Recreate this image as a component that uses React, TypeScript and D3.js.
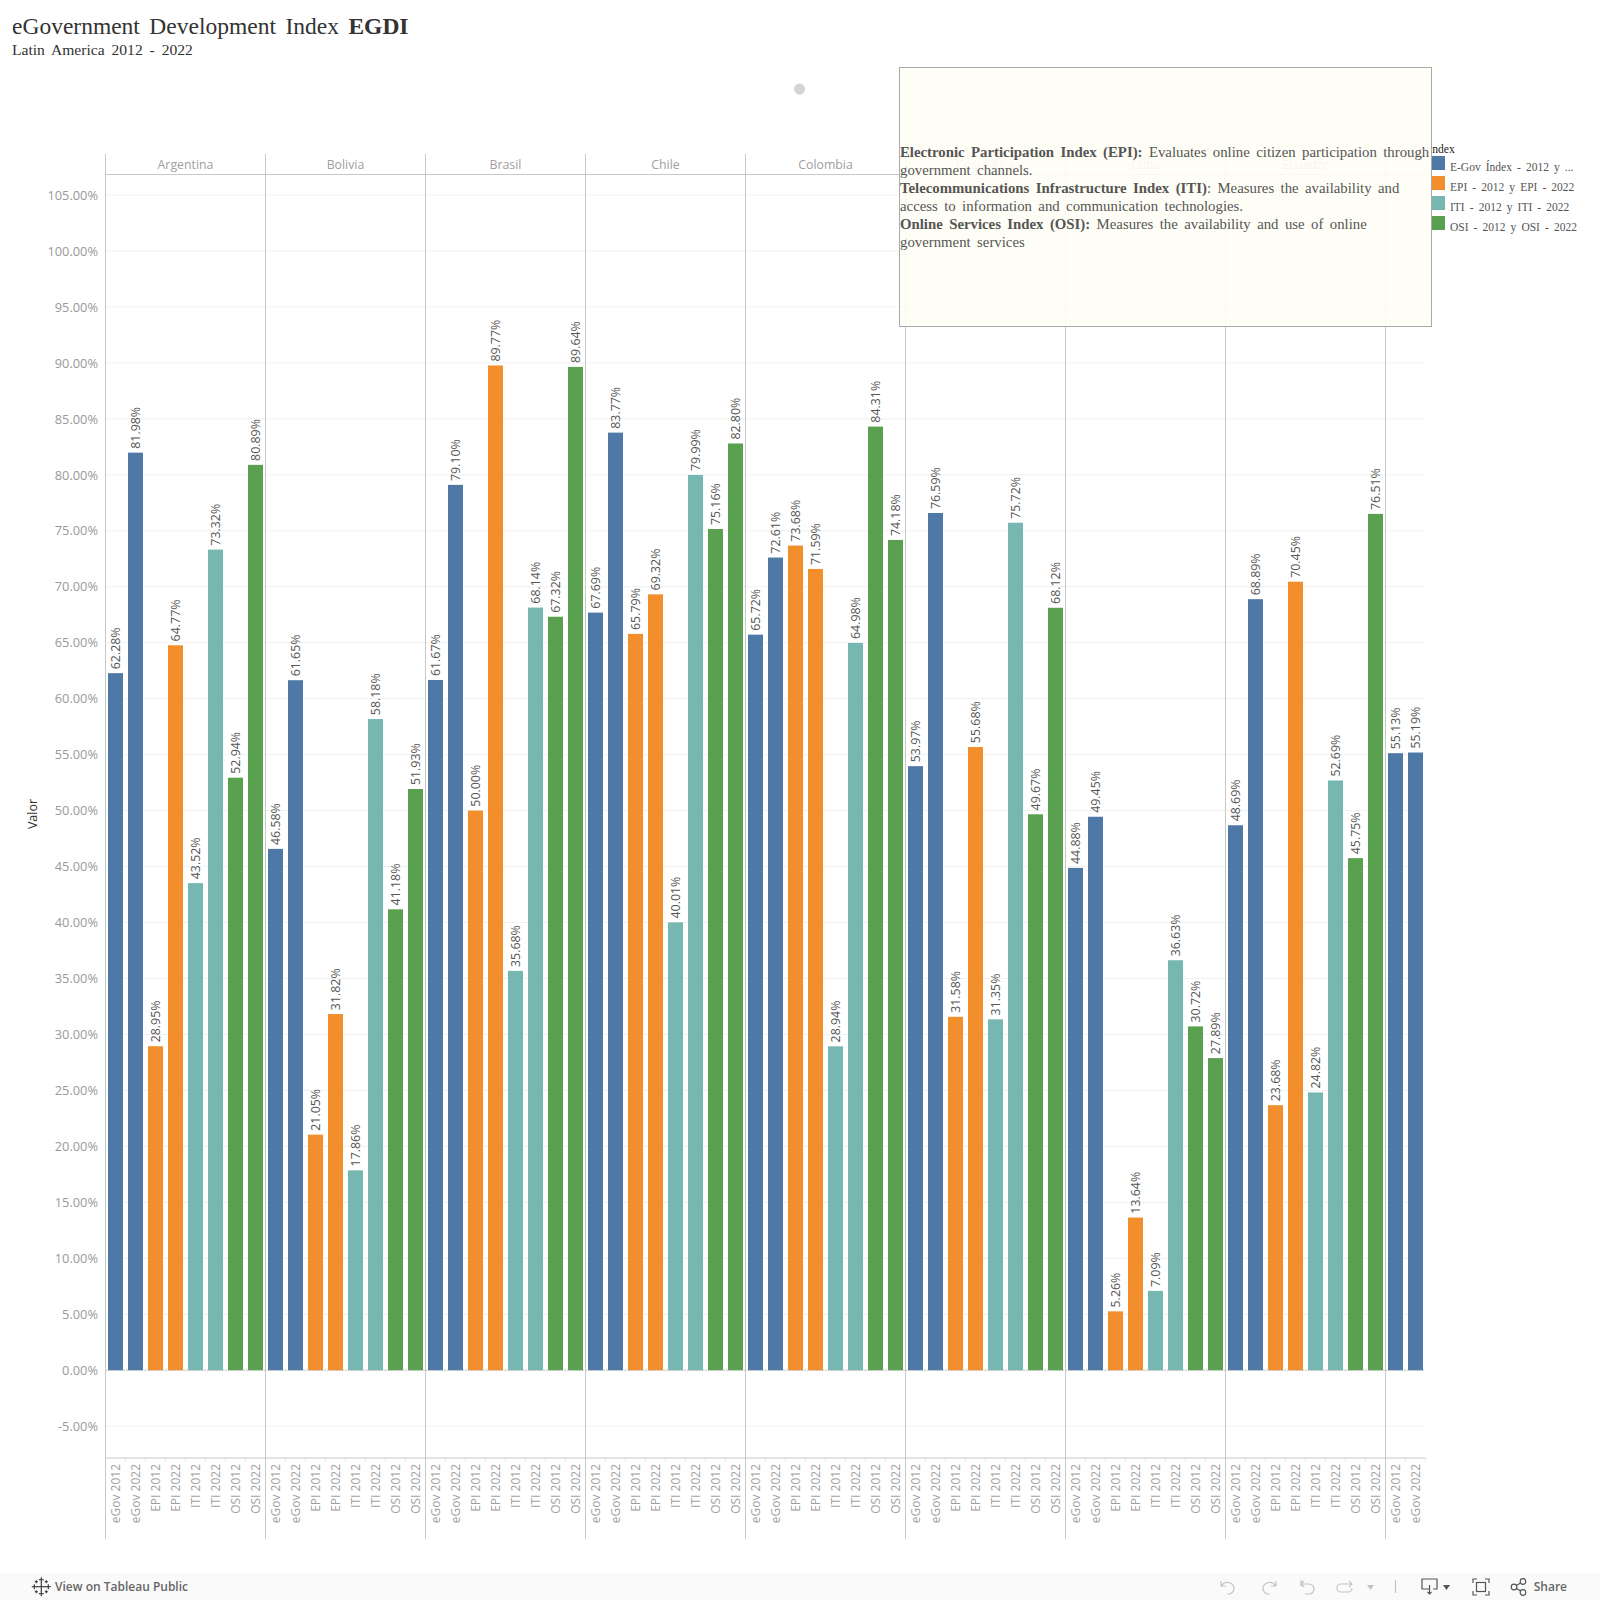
import React from 'react';
import * as d3 from 'd3';

// last panel has its header cut off in the dashboard, so no name is shown for it
const countries = ['Argentina', 'Bolivia', 'Brasil', 'Chile', 'Colombia', 'Costa Rica', 'Cuba', 'Ecuador', ''];
const measures = ['eGov 2012', 'eGov 2022', 'EPI 2012', 'EPI 2022', 'ITI 2012', 'ITI 2022', 'OSI 2012', 'OSI 2022'];

const argentina = [62.28, 81.98, 28.95, 64.77, 43.52, 73.32, 52.94, 80.89];
const bolivia = [46.58, 61.65, 21.05, 31.82, 17.86, 58.18, 41.18, 51.93];
const brasil = [61.67, 79.1, 50.0, 89.77, 35.68, 68.14, 67.32, 89.64];
const chile = [67.69, 83.77, 65.79, 69.32, 40.01, 79.99, 75.16, 82.8];
const colombia = [65.72, 72.61, 73.68, 71.59, 28.94, 64.98, 84.31, 74.18];
const costaRica = [53.97, 76.59, 31.58, 55.68, 31.35, 75.72, 49.67, 68.12];
const cuba = [44.88, 49.45, 5.26, 13.64, 7.09, 36.63, 30.72, 27.89];
const ecuador = [48.69, 68.89, 23.68, 70.45, 24.82, 52.69, 45.75, 76.51];
const lastPanel = [55.13, 55.19];
const seriesValues = [argentina, bolivia, brasil, chile, colombia, costaRica, cuba, ecuador, lastPanel];

const yTicks = d3.range(-5, 106, 5);
const legendLabels = ['E-Gov Índex - 2012 y ...', 'EPI - 2012 y EPI - 2022', 'ITI - 2012 y ITI - 2022', 'OSI - 2012 y OSI - 2022'];
const colors = ['#4e79a7', '#f28e2b', '#76b7b2', '#59a14f'];

const sans = '"Open Sans", sans-serif';
const serif = '"Liberation Serif", serif';
const grey = '#c8c8c8';

const left = 105.5, slot = 20, panelW = 160;
const top = 154, headerY = 174.5, axisY = 1458, bottom = 1539;

const y = d3.scaleLinear().domain([-5, 105]).range([1426.2, 195]);
const panelX = d3.scaleBand<string>().domain(countries).range([left, left + panelW * countries.length]);
const barX = d3.scaleBand<string>().domain(measures).range([0, panelW]).paddingInner(0.25).paddingOuter(0.125);
const right = left + panelW * 8 + slot * lastPanel.length;

const pct = (v: number) => d3.format('.2f')(v).replace('−', '-') + '%';

// tableau logo, made of little crosses: dx, dy, arm length
const logoCrosses = [[0, 0, 5], [0, -7, 2.5], [0, 7, 2.5], [-7, 0, 2.5], [7, 0, 2.5], [-5, -5, 1.5], [5, -5, 1.5], [-5, 5, 1.5], [5, 5, 1.5]];

const Toolbar = () => (
  <g>
    <rect x={0} y={1573} width={1600} height={27} fill="#fafafa" />
    <g transform="translate(41.3,1586.7)" stroke="#333" strokeWidth={1.1}>
      {logoCrosses.map(([dx, dy, r], i) => (
        <g key={i}>
          <line x1={dx - r} x2={dx + r} y1={dy} y2={dy} />
          <line x1={dx} x2={dx} y1={dy - r} y2={dy + r} />
        </g>
      ))}
    </g>
    <text x={55} y={1591} fontFamily={sans} fontSize={12} fontWeight={600} fill="#666">View on Tableau Public</text>

    <g fill="none" stroke="#c4c4c4" strokeWidth={1.2}>
      <path d="M1221,1581 v5 h5 M1221,1586 l3,-3 a7,6 0 1 1 6,11 h-3" />
      <path d="M1276,1581 v5 h-5 M1276,1586 l-3,-3 a7,6 0 1 0 -6,11 h3" />
      <path d="M1301,1580 v6 M1304,1581 l-3,3 l3,3 M1301,1584 h8 a5,5 0 0 1 0,10 h-4" />
      <path d="M1349,1581 l3,3 l-3,3 M1352,1584 h-11 a4,4 0 0 0 0,8 h7 a4,4 0 0 0 4,-4" />
      <line x1={1395.5} x2={1395.5} y1={1580} y2={1593} />
    </g>
    <path d="M1367,1585 h7 l-3.5,5 z" fill="#c4c4c4" />
    <g fill="none" stroke="#555" strokeWidth={1.2}>
      <path d="M1429,1589 h-7 v-10 h15 v10 h-4 M1429.5,1585 v9 M1427.5,1592 l2,2 l2,-2" />
      <path d="M1473,1583 v-4 h4 M1485,1579 h4 v4 M1489,1591 v4 h-4 M1477,1595 h-4 v-4" />
      <rect x={1476.5} y={1582.5} width={9} height={9} />
      <circle cx={1514} cy={1587} r={2.8} />
      <circle cx={1523} cy={1581.5} r={2.8} />
      <circle cx={1523} cy={1592.5} r={2.8} />
      <path d="M1516.5,1585.5 l4,-2.5 M1516.5,1588.5 l4,2.5" />
    </g>
    <path d="M1443,1585 h7 l-3.5,5 z" fill="#555" />
    <text x={1567} y={1591} textAnchor="end" fontFamily={sans} fontSize={12} fontWeight={600} fill="#666">Share</text>
  </g>
);

export default function App() {
  return (
    <svg width={1600} height={1600} style={{ position: 'absolute', left: 0, top: 0, background: '#fff' }}>
      <defs>
        <clipPath id="legend-clip"><rect x={1432} y={130} width={168} height={120} /></clipPath>
      </defs>

      <text x={12} y={34} fontFamily={serif} fontSize={23.5} fill="#333" style={{ wordSpacing: 3.6 }}>
        eGovernment Development Index <tspan fontWeight="bold">EGDI</tspan>
      </text>
      <text x={12} y={55} fontFamily={serif} fontSize={15.6} fill="#333" style={{ wordSpacing: 3 }}>Latin America 2012 - 2022</text>
      <circle cx={799.5} cy={89} r={5.5} fill="#d4d4d4" />

      {/* gridlines */}
      {yTicks.map(t => (
        <g key={t}>
          <line x1={left} x2={right} y1={y(t)} y2={y(t)} stroke="#f0f0f0" />
          <text x={98} y={y(t) + 4.7} textAnchor="end" fontFamily={sans} fontSize={12.8} fill="#999">{pct(t)}</text>
        </g>
      ))}
      <text transform="translate(37,814) rotate(-90)" textAnchor="middle" fontFamily={sans} fontSize={12.5} fill="#333">Valor</text>

      {/* bars and labels per country */}
      {countries.map((c, i) => {
        const px = panelX(c) as number;
        return (
          <g key={i} transform={`translate(${px},0)`}>
            <text x={panelW / 2} y={169} textAnchor="middle" fontFamily={sans} fontSize={12.3} fill="#a0a0a0">{c}</text>
            {seriesValues[i].map((v, j) => {
              const bx = barX(measures[j]) as number;
              const cx = bx + barX.bandwidth() / 2;
              const tickX = bx + barX.step() - barX.step() * barX.paddingInner() / 2;
              return (
                <g key={j}>
                  <rect x={bx} width={barX.bandwidth()} y={y(v)} height={y(0) - y(v)} fill={colors[Math.floor(j / 2)]} />
                  <text transform={`translate(${cx + 4.5},${y(v) - 3.9}) rotate(-90)`} fontFamily={sans} fontSize={12.4} fill="#555">{pct(v)}</text>
                  <text transform={`translate(${cx + 4.5},1464) rotate(-90)`} textAnchor="end" fontFamily={sans} fontSize={12} fill="#a0a0a0">{measures[j]}</text>
                  <line x1={tickX} x2={tickX} y1={axisY} y2={axisY + 4} stroke="#eee" />
                </g>
              );
            })}
          </g>
        );
      })}

      {/* panel frame */}
      <line x1={left} x2={right} y1={y(0)} y2={y(0)} stroke="#999" strokeDasharray="1 2" />
      <line x1={left} x2={right} y1={headerY} y2={headerY} stroke={grey} />
      <line x1={left} x2={right} y1={axisY} y2={axisY} stroke={grey} />
      {countries.map((c, i) => (
        <line key={i} x1={panelX(c)} x2={panelX(c)} y1={top} y2={bottom} stroke={grey} />
      ))}

      {/* definition box */}
      <rect x={899.5} y={67.5} width={532} height={259} fill="#fffef5" fillOpacity={0.9} stroke="#aaa" />
      <g fontFamily={serif} fontSize={14.8} fill="#555" style={{ wordSpacing: 2.7 }}>
        <text x={900} y={157}><tspan fontWeight="bold">Electronic Participation Index (EPI):</tspan> Evaluates online citizen participation through</text>
        <text x={900} y={175}>government channels.</text>
        <text x={900} y={193}><tspan fontWeight="bold">Telecommunications Infrastructure Index (ITI)</tspan>: Measures the availability and</text>
        <text x={900} y={211}>access to information and communication technologies.</text>
        <text x={900} y={229}><tspan fontWeight="bold">Online Services Index (OSI):</tspan> Measures the availability and use of online</text>
        <text x={900} y={247}>government services</text>
      </g>

      {/* legend */}
      <text x={1428.5} y={153} fontFamily={serif} fontSize={11.5} fill="#222" clipPath="url(#legend-clip)">Index</text>
      {legendLabels.map((l, i) => (
        <g key={l}>
          <rect x={1432} y={156 + i * 20} width={13} height={14} fill={colors[i]} />
          <text x={1450} y={171 + i * 20} fontFamily={serif} fontSize={11.5} fill="#555" style={{ wordSpacing: 2.2 }}>{l}</text>
        </g>
      ))}

      <Toolbar />
    </svg>
  );
}
